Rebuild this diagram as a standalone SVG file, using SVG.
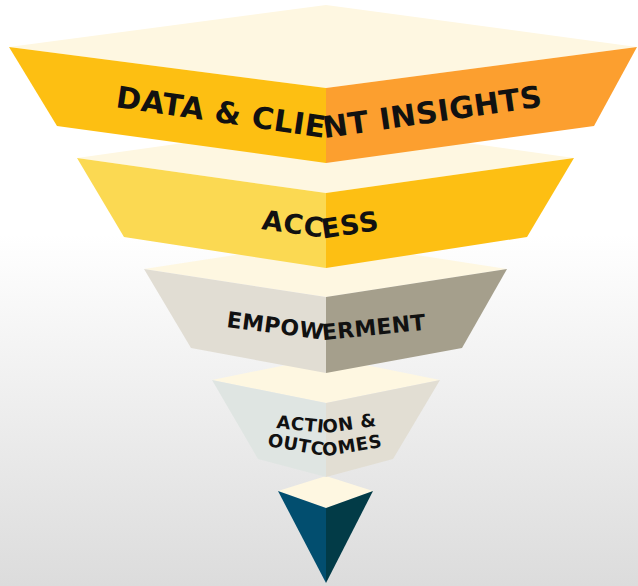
<svg xmlns="http://www.w3.org/2000/svg" xmlns:xlink="http://www.w3.org/1999/xlink" width="638" height="586" viewBox="0 0 638 586">
  <defs>
    <linearGradient id="bg" x1="0" y1="0" x2="0" y2="586" gradientUnits="userSpaceOnUse">
      <stop offset="0" stop-color="#ffffff"/>
      <stop offset="0.4" stop-color="#ffffff"/>
      <stop offset="1" stop-color="#dcdcdc"/>
    </linearGradient>
    <!-- baselines that bend at the front edge of each layer -->
    <path id="p1" d="M115 107 L326 138 L560 104"/>
    <path id="p2" d="M261 229 L326 238 L386 229"/>
    <path id="p3" d="M226 327 L326 340 L432 329"/>
    <path id="p4a" d="M276 428 L326 433 L382 425"/>
    <path id="p4b" d="M267 446 L326 456 L389 446"/>
  </defs>
  <style>
    .top { fill: #fef7e1; }
    .lbl { font-family: "DejaVu Sans", "Liberation Sans", sans-serif; font-weight: bold; fill: #111111; }
  </style>

  <rect x="0" y="0" width="638" height="586" fill="url(#bg)"/>

  <!-- drawn bottom-up so each layer covers the top face of the one below -->
  <g id="tip">
    <polygon class="top" points="326,476 373,491 326,508 278,491"/>
    <polygon points="278,491 326,508 326,583" fill="#024e6f"/>
    <polygon points="326,508 373,491 326,583" fill="#023b47"/>
  </g>

  <g id="action-outcomes">
    <polygon class="top" points="326,357 440,380 326,403 212,380"/>
    <polygon points="212,380 326,403 326,477 258,459" fill="#dfe5e2"/>
    <polygon points="326,403 440,380 393,459 326,477" fill="#e2ded3"/>
    <text class="lbl" font-size="18" letter-spacing="0.4"><textPath xlink:href="#p4a">ACTION &amp;</textPath></text>
    <text class="lbl" font-size="18" letter-spacing="0.4"><textPath xlink:href="#p4b">OUTCOMES</textPath></text>
  </g>

  <g id="empowerment">
    <polygon class="top" points="326,241 507,269 326,297 144,269"/>
    <polygon points="144,269 326,297 326,373 191,348" fill="#e1ddd3"/>
    <polygon points="326,297 507,269 462,348 326,373" fill="#a59f8c"/>
    <text class="lbl" font-size="22" letter-spacing="0.3"><textPath xlink:href="#p3">EMPOWERMENT</textPath></text>
  </g>

  <g id="access">
    <polygon class="top" points="326,123 574,158 326,193 77,158"/>
    <polygon points="77,158 326,193 326,268 124,237" fill="#fbd952"/>
    <polygon points="326,193 574,158 527,237 326,268" fill="#fdbf13"/>
    <text class="lbl" font-size="27" letter-spacing="0.6"><textPath xlink:href="#p2">ACCESS</textPath></text>
  </g>

  <g id="data-client-insights">
    <polygon class="top" points="326,5 637,47 326,88 9,47"/>
    <polygon points="9,47 326,88 326,163 57,126" fill="#fdbf12"/>
    <polygon points="326,88 637,47 594,126 326,163" fill="#fc9f2f"/>
    <text class="lbl" font-size="30" letter-spacing="0.4"><textPath xlink:href="#p1">DATA &amp; CLIENT INSIGHTS</textPath></text>
  </g>
</svg>
